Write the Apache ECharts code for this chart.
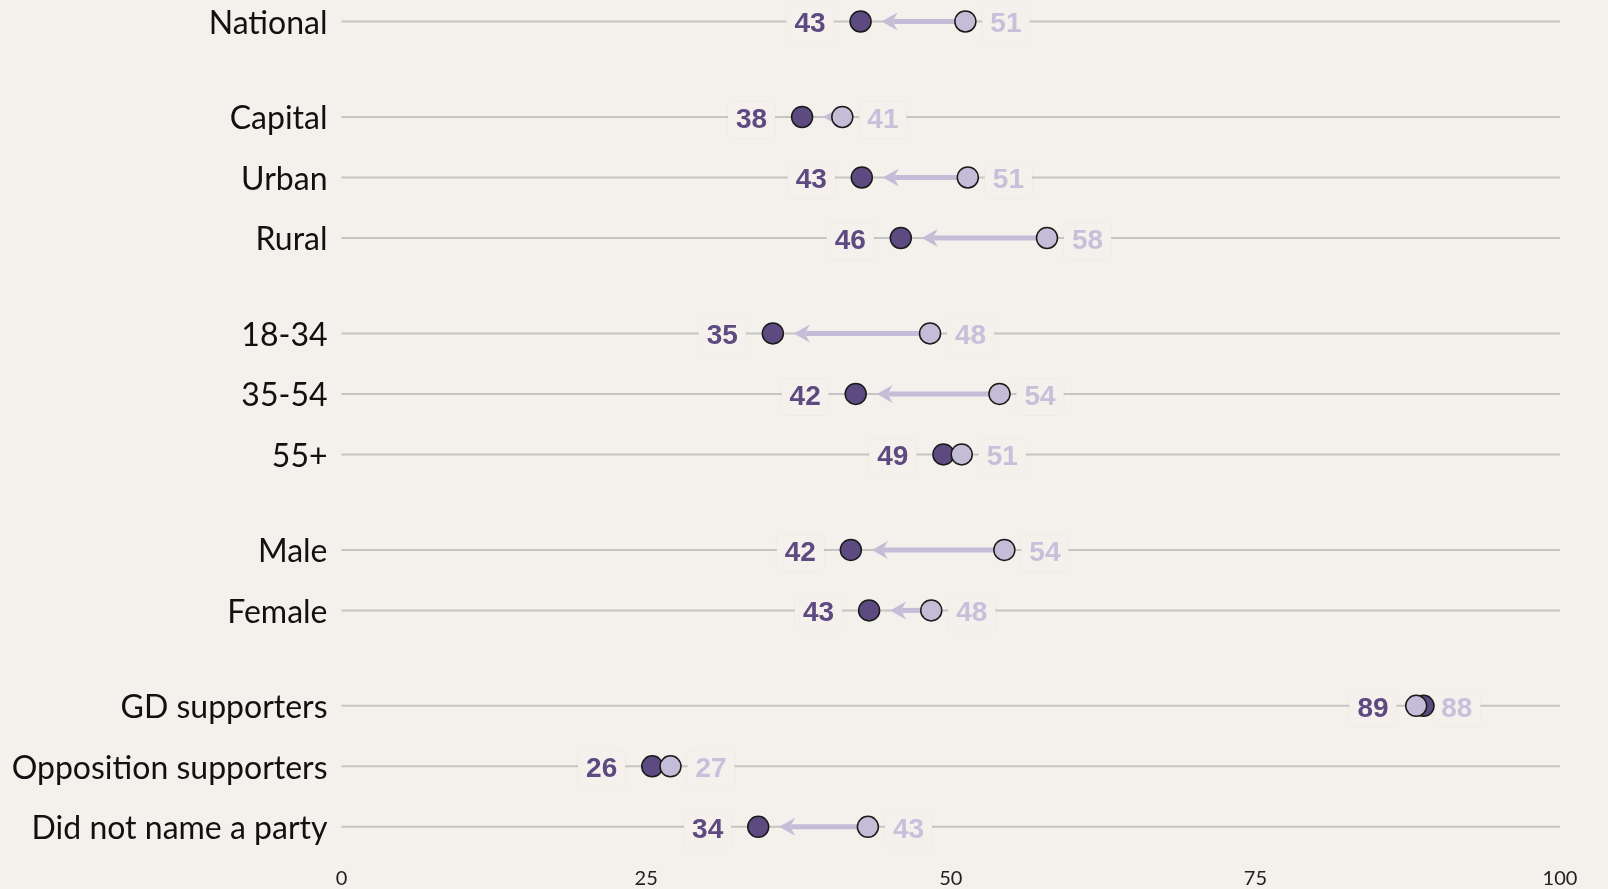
<!DOCTYPE html>
<html>
<head>
<meta charset="utf-8">
<script src="https://cdn.jsdelivr.net/npm/echarts@6/dist/echarts.min.js"></script>
<style>
  html, body { margin: 0; padding: 0; background: #f4f1ec; }
  #chart { width: 1608px; height: 889px; }
</style>
</head>
<body>
<div id="chart"></div>
<script>
// groups of rows, top to bottom
const groups = [
  ['National'],
  ['Capital', 'Urban', 'Rural'],
  ['18-34', '35-54', '55+'],
  ['Male', 'Female'],
  ['GD supporters', 'Opposition supporters', 'Did not name a party']
];
// latest (dark) and earlier (light) values, same order as rows
const latest  = [42.6, 37.8, 42.7, 45.9, 35.4, 42.2, 49.4, 41.8, 43.3, 88.8, 25.5, 34.2];
const earlier = [51.2, 41.1, 51.4, 57.9, 48.3, 54.0, 50.9, 54.4, 48.4, 88.2, 27.0, 43.2];
const xTicks = [0, 25, 50, 75, 100];

const DARK = '#5d4a80';
const LIGHT = '#c4bdd7';
const LIGHT_TEXT = '#c8c0db';
const BG = '#f4f1ec';
const GROUP_GAP = 0.578; // extra space between groups, in row units

// row positions on the (inverted) y axis
const rows = [];
let pos = 0;
groups.forEach((g, gi) => {
  if (gi > 0) pos += GROUP_GAP;
  g.forEach((name, i) => {
    if (i > 0 || gi > 0) pos += 1;
    rows.push({ name, pos });
  });
});

const seriesData = rows.map((r, i) => [latest[i], r.pos, earlier[i], i]);

document.addEventListener('DOMContentLoaded', () => {
  const myChart = echarts.init(document.getElementById('chart'), null, { renderer: 'canvas' });

  const renderRow = (params, api) => {
    const i = api.value(3);
    const y = api.coord([0, api.value(1)])[1];
    const x0 = api.coord([0, 0])[0];
    const x100 = api.coord([100, 0])[0];
    const xn = api.coord([api.value(0), 0])[0];
    const xo = api.coord([api.value(2), 0])[0];
    const r = 11;
    const children = [];

    // row label
    children.push({
      type: 'text',
      style: {
        text: rows[i].name, x: x0 - 14, y: y + 2,
        align: 'right', verticalAlign: 'middle',
        font: '32px Lato, "Liberation Sans", sans-serif', fill: '#111'
      }
    });
    // guide line
    children.push({
      type: 'line',
      shape: { x1: x0, y1: y, x2: x100, y2: y },
      style: { stroke: '#c7c5c1', lineWidth: 2 }
    });
    // value labels
    const boxStyle = {
      verticalAlign: 'middle',
      font: 'bold 28px "Liberation Sans", Arial, sans-serif',
      backgroundColor: BG,
      borderColor: 'rgba(0,0,0,0.02)', borderWidth: 1, borderRadius: 4,
      padding: [4, 8, 4, 8]
    };
    children.push({
      type: 'text',
      style: Object.assign({}, boxStyle, {
        text: String(Math.round(api.value(0))), x: xn - 27, y: y + 3,
        align: 'right', fill: DARK
      })
    });
    children.push({
      type: 'text',
      style: Object.assign({}, boxStyle, {
        text: String(Math.round(api.value(2))), x: xo + 17, y: y + 3,
        align: 'left', fill: LIGHT_TEXT
      })
    });
    // arrow from earlier to latest
    const dist = Math.abs(xo - xn);
    const dir = xo >= xn ? 1 : -1;
    if (dist > r + 10) {
      const tip = xn + dir * (r + 10);
      const head = 16;
      const base = dir > 0 ? Math.min(tip + head - 4, xo) : Math.max(tip - head + 4, xo);
      children.push({
        type: 'line',
        shape: { x1: base, y1: y, x2: xo, y2: y },
        style: { stroke: LIGHT, lineWidth: 5 }
      });
      children.push({
        type: 'polygon',
        shape: { points: [[tip, y], [tip + dir * head, y - 9], [tip + dir * (head - 5), y], [tip + dir * head, y + 9]] },
        style: { fill: LIGHT }
      });
    }
    // dots: latest then earlier on top
    children.push({
      type: 'circle',
      shape: { cx: xn, cy: y, r: r - 0.5 },
      style: { fill: DARK, stroke: '#1a1a1a', lineWidth: 1.5 }
    });
    children.push({
      type: 'circle',
      shape: { cx: xo, cy: y, r: r - 0.5 },
      style: { fill: LIGHT, stroke: '#1a1a1a', lineWidth: 1.5 }
    });
    return { type: 'group', children };
  };

  const option = {
    backgroundColor: BG,
    animation: false,
    grid: { left: 341.5, right: 48, top: 0, bottom: 23 },
    xAxis: {
      type: 'value', min: xTicks[0], max: xTicks[xTicks.length - 1],
      interval: xTicks[1] - xTicks[0],
      axisLine: { show: false }, axisTick: { show: false }, splitLine: { show: false },
      axisLabel: { margin: 3, fontSize: 20, color: '#222', fontFamily: 'Lato, sans-serif' }
    },
    yAxis: {
      type: 'value', inverse: true, min: -0.355, max: 13.959,
      show: false, splitLine: { show: false }
    },
    series: [{
      type: 'custom',
      renderItem: renderRow,
      encode: { x: 0, y: 1 },
      clip: false,
      data: seriesData
    }]
  };

  myChart.setOption(option);
  window.addEventListener('resize', () => myChart.resize());
});
</script>
</body>
</html>
